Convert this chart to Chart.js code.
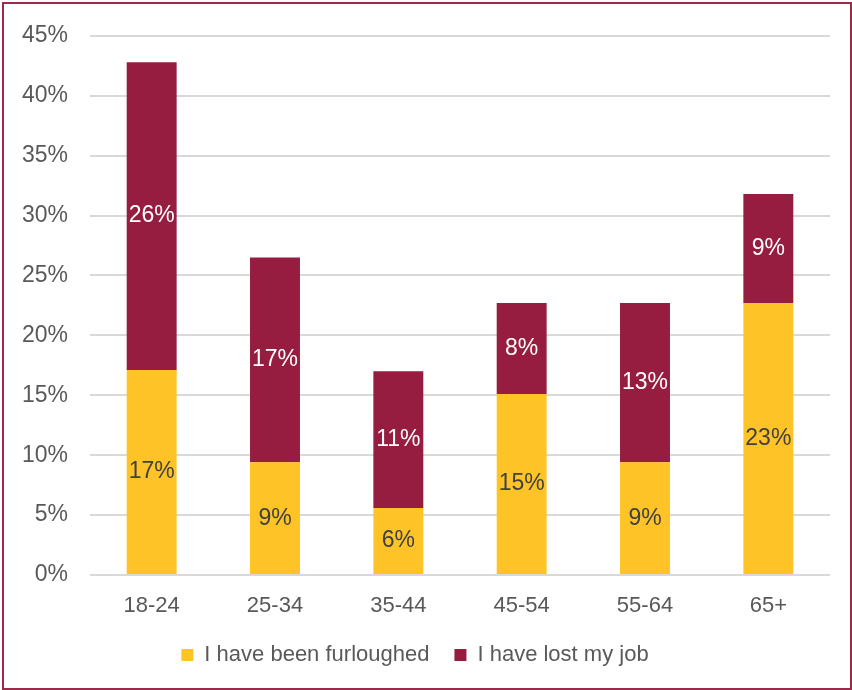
<!DOCTYPE html>
<html>
<head>
<meta charset="utf-8">
<script src="https://cdn.jsdelivr.net/npm/chart.js@4/dist/chart.umd.min.js"></script>
<style>
  html, body { margin: 0; padding: 0; background: #fff; }
  #wrap { width: 852px; height: 690px; position: relative; }
</style>
</head>
<body>
<div id="wrap"><canvas id="chart" width="852" height="690"></canvas></div>
<script>
let ageGroups = ["18-24", "25-34", "35-44", "45-54", "55-64", "65+"];
let furloughed = [17.1, 9.4, 5.6, 15.1, 9.4, 22.7];
let lostJob = [25.7, 17.1, 11.4, 7.6, 13.3, 9.1];
let seriesNames = ["I have been furloughed", "I have lost my job"];

let font = "'Liberation Sans', Arial, sans-serif";

// value labels in the middle of each bar segment
let barLabels = {
    id: "barLabels",
    afterDatasetsDraw(chart) {
        let ctx = chart.ctx;
        ctx.save();
        ctx.font = `23px ${font}`;
        ctx.textAlign = "center";
        ctx.textBaseline = "middle";
        chart.data.datasets.forEach((ds, i) => {
            let meta = chart.getDatasetMeta(i);
            meta.data.forEach((bar, j) => {
                let mid = (bar.y + bar.base) / 2;
                ctx.fillStyle = i === 0 ? "#404040" : "#ffffff";
                ctx.fillText(Math.round(ds.data[j]) + "%", bar.x, mid);
            });
        });
        ctx.restore();
    }
};

let frame = {
    id: "frame",
    afterDraw(chart) {
        let ctx = chart.ctx;
        ctx.save();
        ctx.strokeStyle = "#9b2a4b";
        ctx.lineWidth = 2;
        ctx.strokeRect(3, 3, chart.width - 4, chart.height - 4);
        ctx.restore();
    }
};

new Chart(document.getElementById("chart"), {
    type: "bar",
    data: {
        labels: ageGroups,
        datasets: [{
            label: seriesNames[0],
            data: furloughed,
            backgroundColor: "#fec427"
        }, {
            label: seriesNames[1],
            data: lostJob,
            backgroundColor: "#961d40"
        }]
    },
    options: {
        responsive: false,
        animation: false,
        layout: {
            padding: { top: 31, right: 22, left: 0, bottom: 14 }
        },
        datasets: {
            bar: { categoryPercentage: 1, barPercentage: 0.405 }
        },
        scales: {
            x: {
                stacked: true,
                grid: { display: false },
                border: { display: false },
                ticks: { color: "#595959", padding: 12, font: { family: font, size: 22, lineHeight: 1 } },
                afterFit(scale) { scale.height = 44; }
            },
            y: {
                stacked: true,
                min: 0,
                max: 45,
                grid: { color: "#d9d9d9", lineWidth: 2, drawTicks: false },
                border: { display: false },
                ticks: {
                    stepSize: 5,
                    color: "#595959",
                    padding: 22,
                    font: { family: font, size: 23 },
                    callback: v => v + "%"
                },
                afterFit(scale) { scale.width = 90; }
            }
        },
        plugins: {
            legend: {
                position: "bottom",
                labels: {
                    color: "#595959",
                    boxWidth: 12,
                    boxHeight: 12,
                    padding: 25,
                    font: { family: font, size: 22 }
                }
            },
            tooltip: { enabled: false }
        }
    },
    plugins: [barLabels, frame]
});
</script>
</body>
</html>
